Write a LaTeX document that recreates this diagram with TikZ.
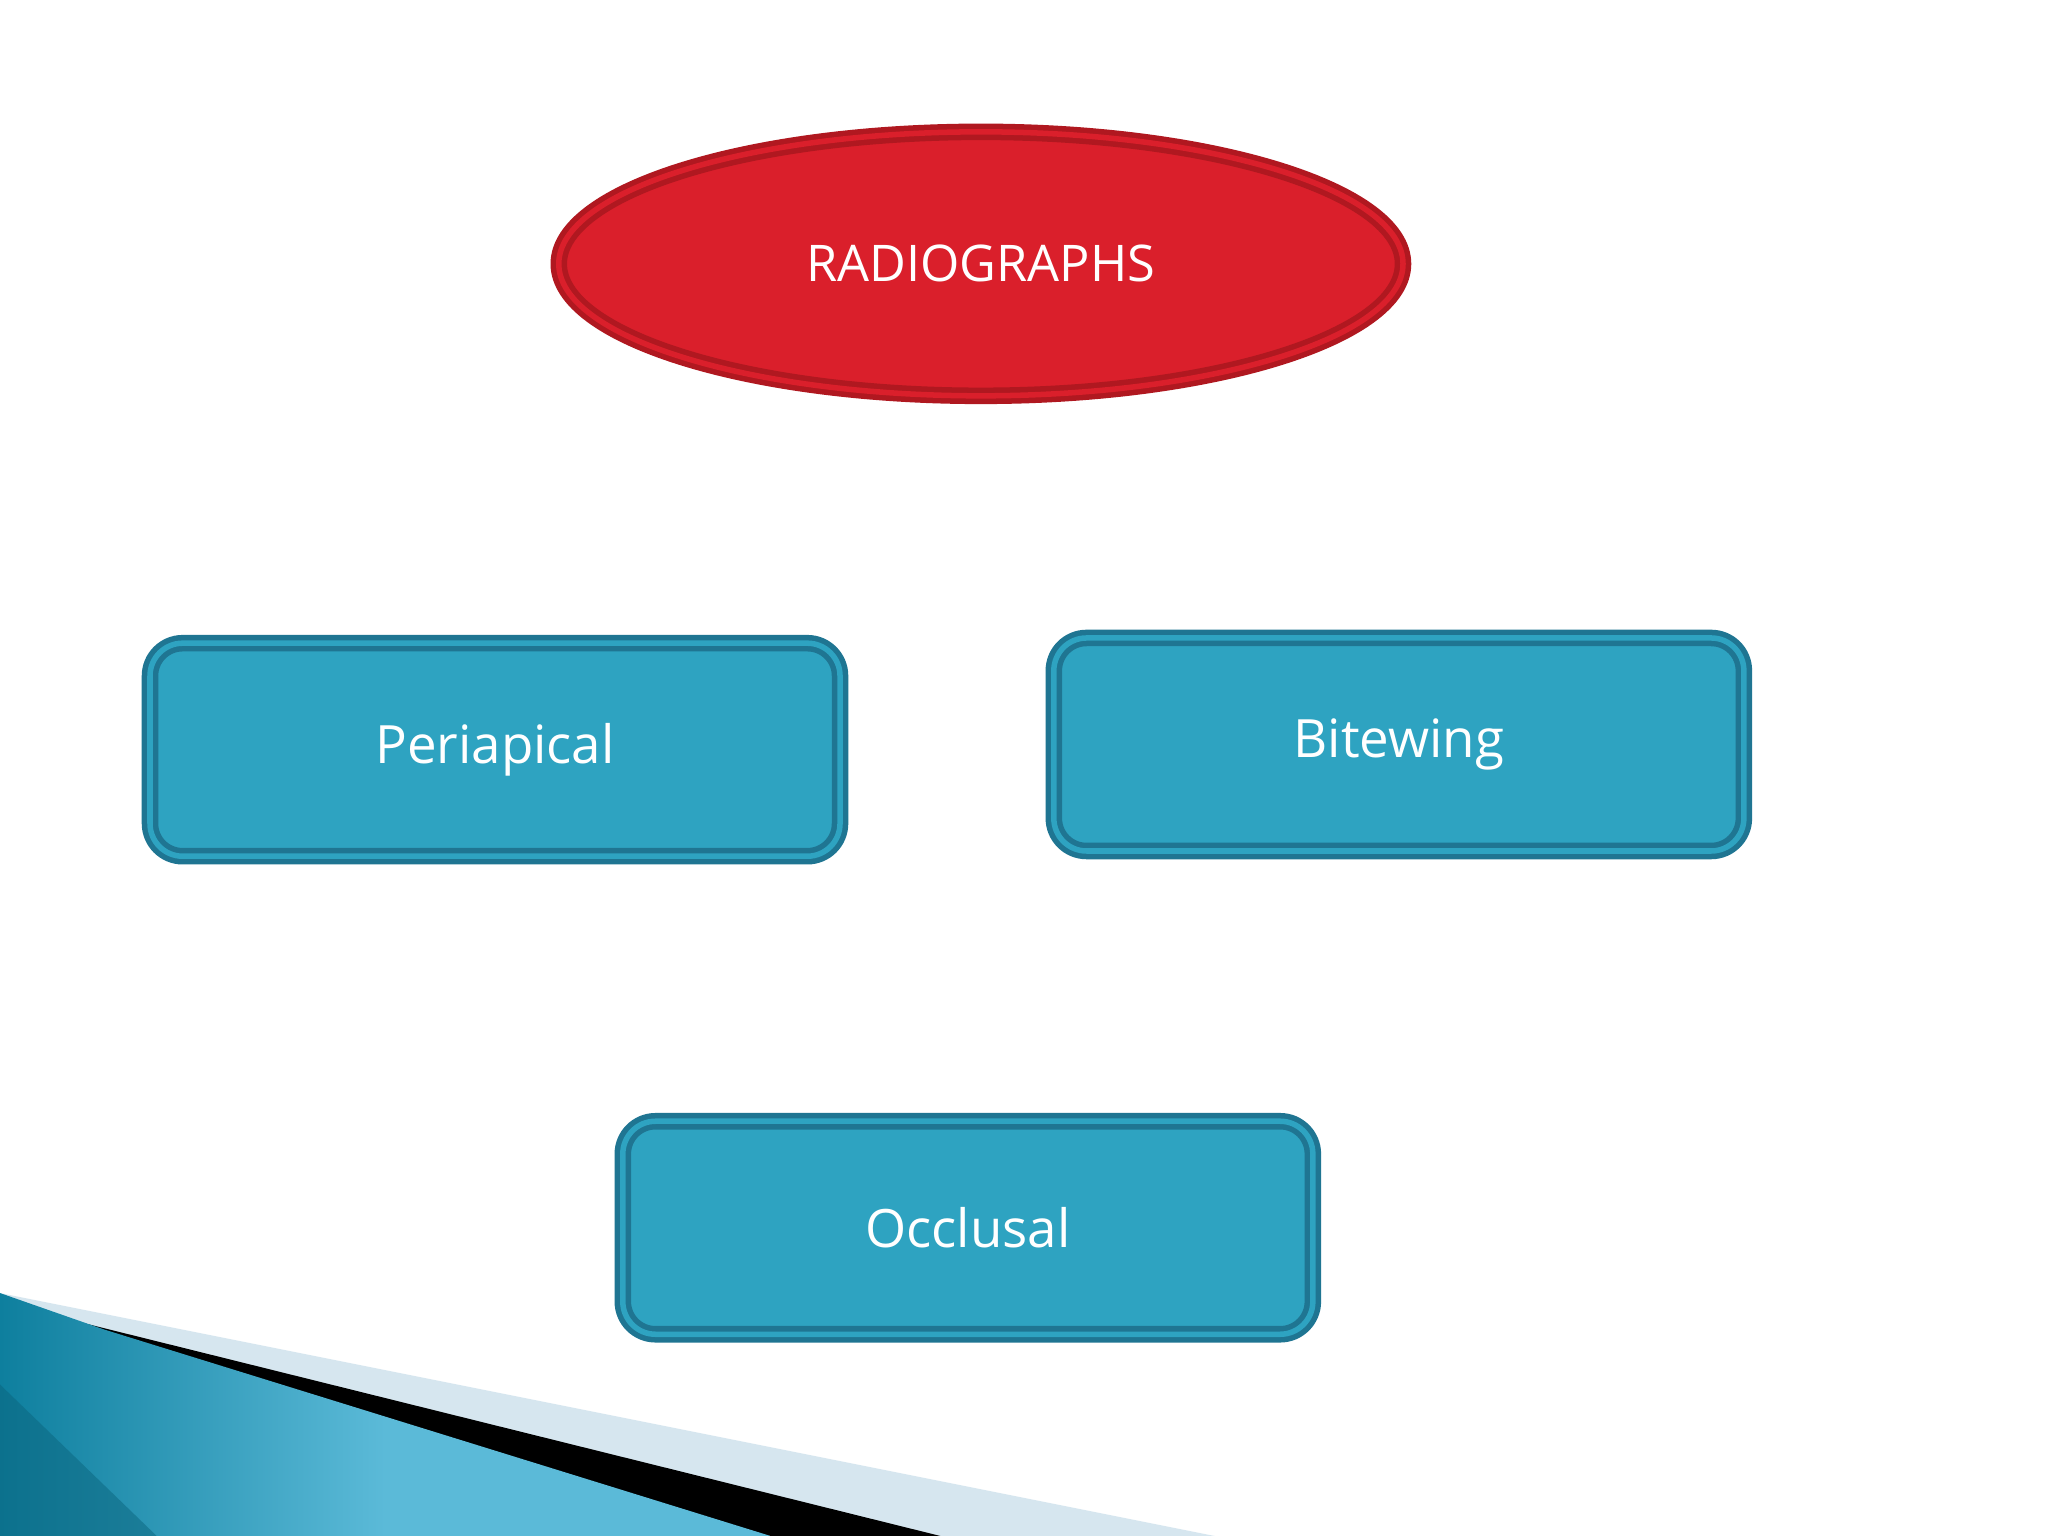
\documentclass[tikz,border=0pt]{standalone}
\usepackage{fontspec}
\setmainfont{Open Sans}
\usetikzlibrary{shapes.geometric}
\definecolor{boxfill}{HTML}{2EA3C1}
\definecolor{boxline}{HTML}{1F7592}
\definecolor{redfill}{HTML}{DA1F2B}
\definecolor{redline}{HTML}{B01820}
\definecolor{band}{HTML}{D6E6EF}
\definecolor{deepblue}{HTML}{0E7F9E}
\definecolor{lightblue}{HTML}{5BBAD8}
\tikzset{
  catbox/.style={draw=boxline, line width=1.2pt, double=boxfill, double distance=1.2pt, fill=boxfill, rounded corners=0.25cm, minimum width=5.28cm, minimum height=1.63cm, text=white, font=\fontsize{11.5}{14}\selectfont},
  topell/.style={ellipse, draw=redline, line width=1.2pt, double=redfill, double distance=1.2pt, fill=redfill, minimum width=6.46cm, minimum height=2.02cm, text=white, font=\fontsize{11}{14}\selectfont}
}
\begin{document}
\begin{tikzpicture}[x=0.01cm,y=-0.01cm]
\useasboundingbox (0,0) rectangle (1568,1176);
\fill[white] (0,0) rectangle (1568,1176);
% bottom-left decoration
\fill[band] (0,990) -- (930,1176) -- (0,1176) -- cycle;
\fill[black] (60,1012) -- (720,1176) -- (580,1176) -- cycle;
\shade[left color=deepblue, right color=lightblue, middle color=lightblue] (0,990) -- (80,1018) -- (590,1176) -- (0,1176) -- cycle;
\fill[deepblue!80!black, opacity=0.5] (0,1060) -- (0,1176) -- (120,1176) -- cycle;
% nodes
\node[topell] (r) at (751,202) {RADIOGRAPHS};
\node[catbox] (p) at (379,574) {Periapical};
\node[catbox] (b) at (1071,570) {Bitewing};
\node[catbox] (o) at (741,940) {Occlusal};
\end{tikzpicture}
\end{document}
